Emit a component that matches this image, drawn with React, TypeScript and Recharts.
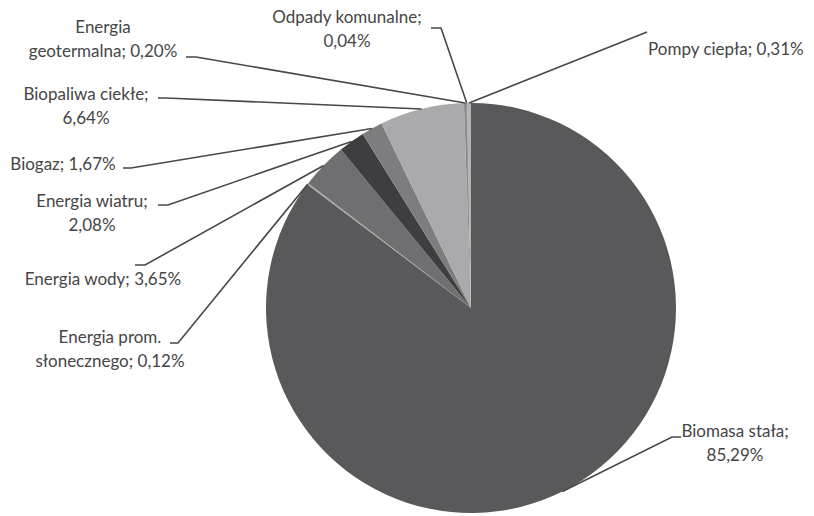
import React from "react";
import { PieChart, Pie, Cell } from "recharts";

const CATEGORIES = [
  "Biomasa stała",
  "Energia prom. słonecznego",
  "Energia wody",
  "Energia wiatru",
  "Biogaz",
  "Biopaliwa ciekłe",
  "Energia geotermalna",
  "Odpady komunalne",
  "Pompy ciepła",
];

const SHARES = [85.29, 0.12, 3.65, 2.08, 1.67, 6.64, 0.2, 0.04, 0.31];

const COLORS = [
  "#59595b",
  "#a3a3a5",
  "#6f6f71",
  "#3e3e40",
  "#7d7d7f",
  "#aaaaac",
  "#8c8c8e",
  "#5c5c5e",
  "#b3b3b5",
];

// label layout: text position, words on first line, leader start + elbow
const LABELS = [
  { tx: 735, ty: 437, anchor: "middle", wrap: 2, lx: 681, ly: 437, elbow: -9 },
  { tx: 110, ty: 343, anchor: "middle", wrap: 2, lx: 170, ly: 343, elbow: 8 },
  { tx: 103, ty: 285, anchor: "middle", wrap: 0, lx: 135, ly: 265, elbow: 10 },
  { tx: 92, ty: 207, anchor: "middle", wrap: 2, lx: 158, ly: 205, elbow: 10 },
  { tx: 63, ty: 170, anchor: "middle", wrap: 0, lx: 123, ly: 168, elbow: 8 },
  { tx: 86, ty: 100, anchor: "middle", wrap: 2, lx: 158, ly: 98, elbow: 8 },
  { tx: 103, ty: 33, anchor: "middle", wrap: 1, lx: 186, ly: 57, elbow: 10 },
  { tx: 347, ty: 23, anchor: "middle", wrap: 2, lx: 431, ly: 28, elbow: 10 },
  { tx: 648, ty: 55, anchor: "start", wrap: 0, lx: 647, ly: 32, elbow: 0 },
];

const data = CATEGORIES.map((name, i) => ({ name, value: SHARES[i] }));

const RAD = Math.PI / 180;

const renderLabel = (props: any) => {
  const { cx, cy, midAngle, outerRadius, index } = props;
  const l = LABELS[index];
  const ex = cx + outerRadius * Math.cos(-midAngle * RAD);
  const ey = cy + outerRadius * Math.sin(-midAngle * RAD);
  const text = `${CATEGORIES[index]}; ${SHARES[index].toFixed(2).replace(".", ",")}%`;
  const words = text.split(" ");
  const lines = l.wrap ? [words.slice(0, l.wrap).join(" "), words.slice(l.wrap).join(" ")] : [text];
  return (
    <g key={index}>
      <polyline
        points={`${l.lx},${l.ly} ${l.lx + l.elbow},${l.ly} ${ex},${ey}`}
        fill="none"
        stroke="#474747"
        strokeWidth={1.6}
      />
      <text x={l.tx} y={l.ty} textAnchor={l.anchor} fill="#454545" fontSize={17} fontFamily="Lato, 'Open Sans', sans-serif">
        {lines.map((t, j) => (
          <tspan key={j} x={l.tx} dy={j === 0 ? 0 : 23.5}>
            {t}
          </tspan>
        ))}
      </text>
    </g>
  );
};

export default function App() {
  return (
    <div style={{ position: "absolute", left: 0, top: 0, background: "#fff" }}>
      <PieChart width={814} height={516}>
        <Pie
          data={data}
          dataKey="value"
          nameKey="name"
          cx={466}
          cy={303}
          outerRadius={205}
          startAngle={90}
          endAngle={-270}
          stroke="none"
          label={renderLabel}
          labelLine={false}
          isAnimationActive={false}
        >
          {data.map((_, i) => (
            <Cell key={i} fill={COLORS[i]} />
          ))}
        </Pie>
      </PieChart>
    </div>
  );
}
